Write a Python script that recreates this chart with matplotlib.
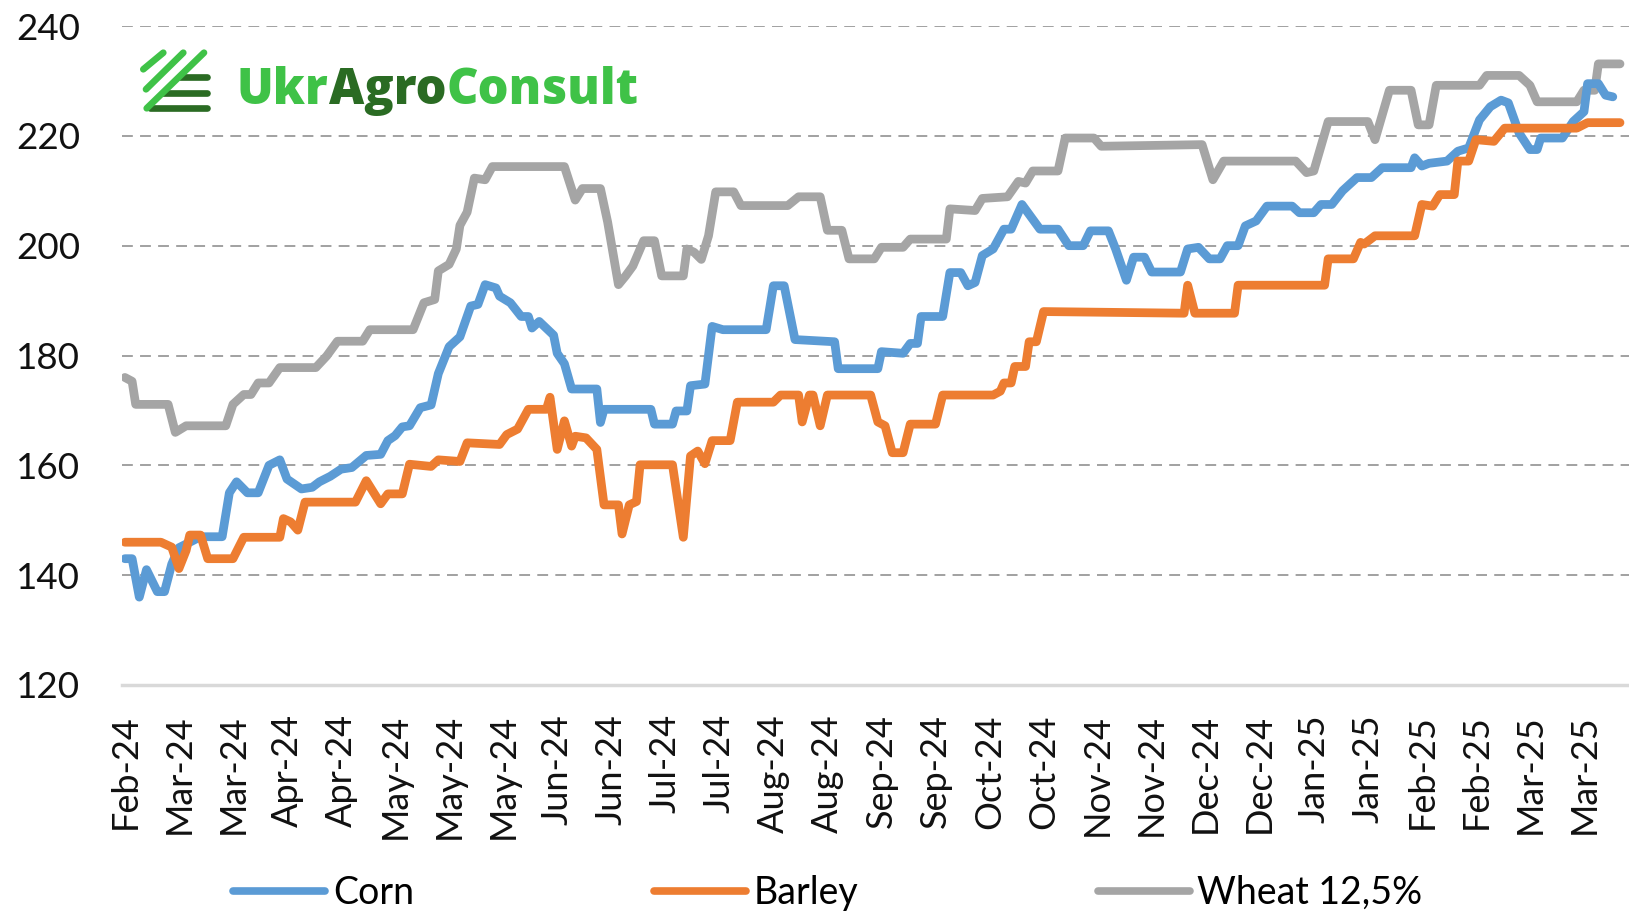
"""Corn / Barley / Wheat 12,5% price chart (UkrAgroConsult style) -> out.png"""

import matplotlib

matplotlib.use("Agg")
import matplotlib.pyplot as plt  # noqa: E402
import pandas as pd  # noqa: E402
from matplotlib.lines import Line2D  # noqa: E402

W, H = 1629, 917
START = pd.Timestamp("2024-02-16")

# days since START, value
corn_days = [0, 2, 4, 6, 9, 11, 13, 15, 18, 21, 27, 29, 31, 34, 37, 40, 43, 45, 49, 52,
             54, 57, 60, 63, 67, 71, 73, 75, 77, 79, 82, 85, 87, 90, 93, 96, 98, 100, 103, 104,
             107, 110, 112, 113, 115, 119, 120, 122, 124, 131, 132, 133, 146, 147, 152, 153, 156, 157, 161, 163,
             166, 178, 180, 183, 186, 197, 198, 209, 210, 216, 218, 220, 221, 227, 229, 232, 234, 236, 238, 241,
             244, 246, 249, 254, 259, 262, 266, 268, 273, 275, 278, 280, 283, 285, 293, 295, 298, 301, 304, 306,
             309, 311, 314, 317, 324, 326, 330, 332, 335, 338, 342, 346, 349, 357, 358, 360, 362, 367, 370, 373,
             376, 379, 382, 384, 387, 390, 392, 393, 399, 402, 405, 406, 409, 411, 413]
corn_vals = [143, 143, 136, 141, 137, 137, 142, 145, 146, 147, 147, 155, 157, 155, 155, 160, 161, 157.5, 155.7, 156,
             157, 158, 159.3, 159.6, 161.8, 162, 164.5, 165.4, 167, 167.2, 170.5, 171, 176.7, 181.6, 183.4, 189, 189.3, 192.9, 192.3, 190.8,
             189.6, 187.1, 187.1, 185, 186.2, 183.7, 180.4, 178.5, 173.9, 173.9, 167.8, 170.2, 170.2, 167.5, 167.5, 169.9, 169.9, 174.5, 174.8, 185.3,
             184.7, 184.7, 192.7, 192.7, 182.9, 182.5, 177.6, 177.6, 180.7, 180.4, 182.2, 182.2, 187.1, 187.1, 195.1, 195.1, 192.7, 193.3, 198.2, 199.4,
             203, 203, 207.5, 203, 203, 200, 200, 202.7, 202.7, 199.4, 193.7, 197.9, 197.9, 195.2, 195.2, 199.4, 199.7, 197.6, 197.6, 200,
             200, 203.6, 204.5, 207.2, 207.2, 206, 206, 207.5, 207.5, 210, 212.4, 212.4, 214.2, 214.2, 216, 214.5, 215, 215.4, 217.2, 217.8,
             222.9, 225.3, 226.5, 226, 220.5, 217.5, 217.5, 219.6, 219.6, 222.6, 224.4, 229.5, 229.5, 227.4, 227.1]

barley_days = [0, 10, 13, 15, 17, 18, 21, 23, 30, 33, 43, 44, 46, 48, 50, 64, 67, 69, 71, 73,
               77, 79, 85, 87, 93, 95, 104, 106, 109, 110, 112, 117, 118, 120, 122, 124, 125, 128, 131, 133,
               137, 138, 140, 142, 143, 152, 155, 157, 159, 161, 163, 168, 170, 180, 182, 187, 188, 190, 191, 193,
               195, 207, 209, 211, 213, 216, 218, 225, 227, 241, 243, 244, 246, 247, 250, 251, 253, 255, 294, 295,
               297, 308, 309, 333, 334, 341, 343, 344, 347, 358, 360, 363, 365, 369, 370, 373, 375, 380, 383, 403,
               406, 415]
barley_vals = [146, 146, 145.1, 141.2, 144.5, 147.3, 147.3, 143, 143, 146.9, 146.9, 150.3, 149.7, 148.2, 153.3, 153.3, 157.2, 155.1, 153, 154.8,
               154.8, 160.2, 159.8, 161, 160.7, 164.1, 163.8, 165.6, 166.6, 167.8, 170.2, 170.2, 172.4, 162.9, 168.1, 163.5, 165.3, 165, 162.9, 152.8,
               152.8, 147.5, 152.8, 153.4, 160.1, 160.1, 146.9, 161.7, 162.6, 160.3, 164.5, 164.5, 171.5, 171.5, 172.8, 172.8, 167.9, 172.8, 172.8, 167.2,
               172.8, 172.8, 167.9, 167.2, 162.3, 162.3, 167.5, 167.5, 172.8, 172.8, 173.5, 175, 175, 178, 178, 182.5, 182.5, 188, 187.7, 192.8,
               187.7, 187.7, 192.8, 192.8, 197.6, 197.6, 200.6, 200.3, 201.8, 201.8, 207.5, 207.2, 209.3, 209.3, 215.4, 215.4, 219.3, 219, 221.4, 221.4,
               222.4, 222.4]

wheat_days = [0, 2, 3, 12, 14, 17, 28, 30, 33, 35, 37, 40, 43, 53, 56, 59, 66, 68, 80, 83,
              86, 87, 90, 92, 93, 95, 97, 100, 102, 122, 125, 127, 132, 134, 137, 139, 141, 144, 147, 149,
              155, 156, 158, 160, 162, 164, 169, 171, 184, 187, 193, 195, 199, 201, 208, 210, 216, 218, 228, 229,
              236, 238, 245, 248, 250, 252, 259, 261, 269, 271, 299, 302, 305, 325, 328, 330, 334, 345, 347, 351,
              357, 359, 362, 364, 376, 378, 387, 390, 392, 403, 405, 408, 409, 415]
wheat_vals = [176, 175.3, 171.1, 171.1, 166, 167.2, 167.2, 171.1, 172.9, 172.9, 175, 175, 177.8, 177.8, 179.9, 182.6, 182.6, 184.7, 184.7, 189.6,
              190.2, 195.4, 196.6, 199.4, 203.7, 206.1, 212.3, 212, 214.4, 214.4, 208.3, 210.4, 210.4, 204.3, 192.9, 194.5, 196.3, 200.9, 200.9, 194.5,
              194.5, 199.4, 198.8, 197.5, 201.8, 209.8, 209.8, 207.3, 207.3, 208.9, 208.9, 202.8, 202.8, 197.6, 197.6, 199.7, 199.7, 201.2, 201.2, 206.7,
              206.4, 208.6, 208.9, 211.7, 211.4, 213.6, 213.6, 219.6, 219.6, 218.1, 218.4, 212, 215.4, 215.4, 213.3, 213.6, 222.6, 222.6, 219.3, 228.3,
              228.3, 222, 222, 229.2, 229.2, 231, 231, 229.2, 226.2, 226.2, 228.3, 228.3, 233.1, 233.1]

tick_dates = pd.date_range(START, periods=28, freq="15D")
tick_labels = [d.strftime("%b-%y") for d in tick_dates]
y_ticks = [120, 140, 160, 180, 200, 220, 240]

BLUE, ORANGE, GRAY = "#5b9bd5", "#ed7d31", "#a5a5a5"
GREEN, DARK_GREEN = "#3fc247", "#2a6b23"
FONT = ["Lato", "DejaVu Sans"]


def _dates(days):
    return START + pd.to_timedelta(days, unit="D")


def _fx(x):
    return x / W


def _fy(y):
    return 1 - y / H


fig = plt.figure(figsize=(W / 100, H / 100), dpi=100)
ax = fig.add_axes((_fx(122), _fy(685), _fx(1629 - 122), (685 - 26) / H))

lw = 6.3
ax.plot(_dates(wheat_days), wheat_vals, color=GRAY, lw=lw, solid_joinstyle="round",
        solid_capstyle="round", zorder=3)
ax.plot(_dates(corn_days), corn_vals, color=BLUE, lw=lw, solid_joinstyle="round",
        solid_capstyle="round", zorder=4)
ax.plot(_dates(barley_days), barley_vals, color=ORANGE, lw=lw, solid_joinstyle="round",
        solid_capstyle="round", zorder=5)

ax.set_ylim(120, 240)
ax.set_xlim(START - pd.Timedelta(days=0.8), START + pd.Timedelta(days=417.5))
for v in y_ticks[1:]:
    ax.axhline(v, color="#9a9a9a", lw=1.3, dashes=(6, 4), zorder=1)
ax.axhline(120, color="#d9d9d9", lw=2.5, zorder=1, clip_on=False)
for s in ax.spines.values():
    s.set_visible(False)

ax.set_yticks(y_ticks)
ax.set_yticklabels([str(v) for v in y_ticks], family=FONT, fontsize=26.5, color="#111111")
ax.set_xticks(tick_dates)
ax.set_xticklabels(tick_labels, rotation=90, family=FONT, fontsize=26, color="#111111")
ax.tick_params(axis="y", length=0, pad=30)
ax.tick_params(axis="x", length=0, pad=21)

# logo
icon_diag = [((143.3, 69.3), (163.3, 52.7)), ((146, 89.3), (183.3, 52.7)),
             ((146.7, 108.3), (204, 52.7))]
icon_bars = [((180, 76.7), (206.7, 76.7)), ((163.3, 92.7), (206.7, 92.7)),
             ((150, 108.3), (206.7, 108.3))]
for (x0, y0), (x1, y1) in icon_bars:
    fig.add_artist(Line2D([_fx(x0), _fx(x1)], [_fy(y0), _fy(y1)], color=DARK_GREEN, lw=4.8,
                          solid_capstyle="round"))
for (x0, y0), (x1, y1) in icon_diag:
    fig.add_artist(Line2D([_fx(x0), _fx(x1)], [_fy(y0), _fy(y1)], color=GREEN, lw=4.8,
                          solid_capstyle="round"))

logo_kw = dict(family=["Open Sans", "DejaVu Sans"], fontweight=800, fontsize=35)
t1 = fig.text(_fx(237), _fy(104), "Ukr", color=GREEN, va="baseline", **logo_kw)
t2 = ax.annotate("Agro", xy=(1, 0), xycoords=t1, va="bottom", ha="left", color=DARK_GREEN,
                 annotation_clip=False, **logo_kw)
ax.annotate("Consult", xy=(1, 0), xycoords=t2, va="bottom", ha="left", color=GREEN,
            annotation_clip=False, **logo_kw)

handles = [Line2D([], [], color=c, lw=5.5, solid_capstyle="round") for c in (BLUE, ORANGE, GRAY)]
fig.legend(handles, ["Corn", "Barley", "Wheat 12,5%"], loc="center",
           bbox_to_anchor=(_fx(828), _fy(893)), ncol=3, frameon=False,
           prop=dict(family=FONT, size=27), handlelength=2.45, handletextpad=0.2,
           columnspacing=6.4)

fig.savefig("out.png", dpi=100)
